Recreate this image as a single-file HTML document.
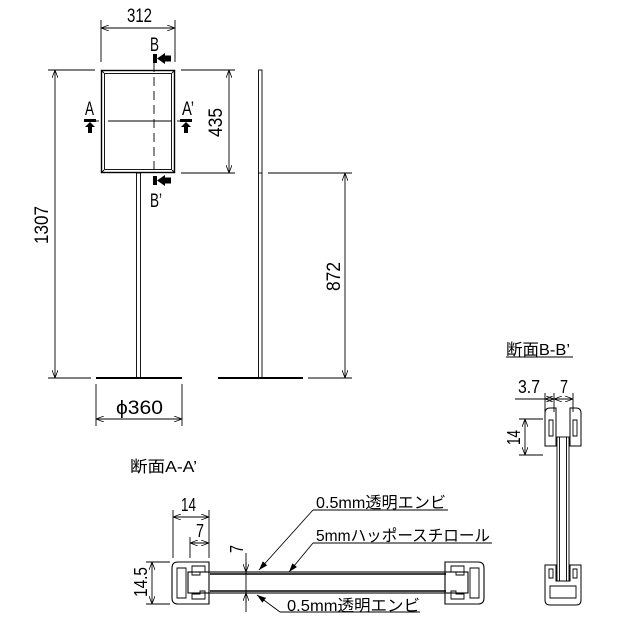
<!DOCTYPE html>
<html><head><meta charset="utf-8"><style>
html,body{margin:0;padding:0;background:#fff;width:622px;height:622px;overflow:hidden}
svg text{font-family:"Liberation Sans","Noto Sans CJK JP",sans-serif;fill:#000}
</style></head><body>
<svg width="622" height="622" viewBox="0 0 622 622" xmlns="http://www.w3.org/2000/svg">
<defs>
<marker id="ar" markerWidth="8" markerHeight="6" refX="8" refY="3" orient="auto-start-reverse" markerUnits="userSpaceOnUse"><path d="M0,0 L8,3 L0,6" fill="none" stroke="#000" stroke-width="0.8"/></marker>
<marker id="af" markerWidth="9" markerHeight="6" refX="9" refY="3" orient="auto" markerUnits="userSpaceOnUse"><path d="M0,0 L9,3 L0,6 z" fill="#000"/></marker>
</defs>
<g stroke="#000" stroke-width="0.9" fill="none">
<line x1="101" y1="20" x2="101" y2="62"/><line x1="175" y1="20" x2="175" y2="62"/>
<line x1="101" y1="28" x2="175" y2="28" marker-start="url(#ar)" marker-end="url(#ar)"/>
<rect x="101.5" y="70.5" width="73" height="102" stroke-width="1.4"/>
<rect x="104.5" y="73.5" width="67" height="96"/>
<line x1="101" y1="70" x2="104" y2="73"/><line x1="175" y1="70" x2="172" y2="73"/>
<line x1="101" y1="173" x2="104" y2="170"/><line x1="175" y1="173" x2="172" y2="170"/>
<line x1="108" y1="121" x2="172" y2="121"/>
<line x1="154" y1="63" x2="154" y2="173" stroke-dasharray="9,5"/>
<line x1="154" y1="176" x2="154" y2="183"/>
<line x1="94" y1="121" x2="99" y2="121"/><line x1="177" y1="121" x2="182" y2="121"/>
<line x1="181" y1="70" x2="235" y2="70"/><line x1="181" y1="173" x2="235" y2="173"/>
<line x1="229" y1="70" x2="229" y2="173" marker-start="url(#ar)" marker-end="url(#ar)"/>
<line x1="48" y1="70" x2="95" y2="70"/><line x1="48" y1="378" x2="91" y2="378"/>
<line x1="55" y1="70" x2="55" y2="378" marker-start="url(#ar)" marker-end="url(#ar)"/>
<rect x="136.5" y="173" width="4" height="205"/>
<line x1="96" y1="378" x2="182" y2="378" stroke-width="2"/>
<line x1="96" y1="384" x2="96" y2="426"/><line x1="182" y1="384" x2="182" y2="426"/>
<line x1="96" y1="419" x2="182" y2="419" marker-start="url(#ar)" marker-end="url(#ar)"/>
<rect x="258.5" y="70" width="3.5" height="308"/>
<line x1="258" y1="173" x2="262" y2="173"/>
<line x1="218" y1="378" x2="303" y2="378" stroke-width="2"/>
<line x1="268" y1="173" x2="352" y2="173"/><line x1="308" y1="378" x2="352" y2="378"/>
<line x1="345" y1="173" x2="345" y2="378" marker-start="url(#ar)" marker-end="url(#ar)"/>
<path d="M178,562 H209 V604 H178 Q172,604 172,598 V568 Q172,562 178,562 Z" stroke-width="1.1"/>
<path d="M177,568 H186 V598 H177 Z"/>
<path d="M192,566 H205 V572 H200 V575 H192 Z M192,594 H200 V591 H205 V599 H192 Z"/>
<path d="M478,562 H445 V604 H478 Q484,604 484,598 V568 Q484,562 478,562 Z" stroke-width="1.1"/>
<path d="M479,568 H470 V598 H479 Z"/>
<path d="M464,566 H451 V572 H456 V575 H464 Z M464,594 H456 V591 H451 V599 H464 Z"/>
<rect x="188" y="572" width="280" height="21" stroke-width="1.1"/>
<line x1="210" y1="574" x2="446" y2="574" stroke-width="1.6"/>
<line x1="210" y1="591" x2="446" y2="591" stroke-width="1.6"/>
<line x1="146" y1="562" x2="170" y2="562"/><line x1="146" y1="604" x2="170" y2="604"/>
<line x1="152" y1="562" x2="152" y2="604" marker-start="url(#ar)" marker-end="url(#ar)"/>
<line x1="173" y1="510" x2="173" y2="558"/><line x1="209" y1="510" x2="209" y2="558"/>
<line x1="173" y1="517" x2="209" y2="517" marker-start="url(#ar)" marker-end="url(#ar)"/>
<line x1="190" y1="537" x2="190" y2="558"/>
<line x1="190" y1="543" x2="209" y2="543" marker-start="url(#ar)" marker-end="url(#ar)"/>
<line x1="246" y1="553" x2="246" y2="612"/>
<line x1="246" y1="562" x2="246" y2="572" marker-end="url(#ar)"/>
<line x1="246" y1="603" x2="246" y2="593" marker-end="url(#ar)"/>
<line x1="313" y1="510" x2="448" y2="510"/><line x1="313" y1="510" x2="259" y2="570" marker-end="url(#af)"/>
<line x1="313" y1="543" x2="492" y2="543"/><line x1="313" y1="543" x2="289" y2="572" marker-end="url(#af)"/>
<line x1="280" y1="612" x2="420" y2="612"/><line x1="280" y1="612" x2="257" y2="595" marker-end="url(#af)"/>
<line x1="506" y1="357" x2="573" y2="357"/>
<path d="M556,446 H545 V413 Q545,408 550,408 H556 Z" stroke-width="1"/>
<path d="M570,446 H581 V413 Q581,408 576,408 H570 Z" stroke-width="1"/>
<path d="M549,420 H553 V436 H549 Z M573,420 H577 V436 H573 Z"/>
<rect x="557" y="437" width="12" height="144"/>
<line x1="559.5" y1="437" x2="559.5" y2="581"/><line x1="566.5" y1="437" x2="566.5" y2="581"/>
<path d="M556,565 H545 V600 Q545,605 550,605 H576 Q581,605 581,600 V565 H570 V581 H556 Z" stroke-width="1"/>
<path d="M549,569 H553 V578 H549 Z M573,569 H577 V578 H573 Z"/>
<path d="M550,586 H576 V598 H550 Z"/>
<line x1="545" y1="393" x2="545" y2="412"/><line x1="554" y1="393" x2="554" y2="412"/><line x1="573" y1="393" x2="573" y2="412"/>
<line x1="515" y1="399" x2="545" y2="399"/>
<line x1="545" y1="399" x2="554" y2="399" marker-start="url(#ar)" marker-end="url(#ar)"/>
<line x1="554" y1="399" x2="573" y2="399" marker-start="url(#ar)" marker-end="url(#ar)"/>
<line x1="519" y1="419" x2="543" y2="419"/><line x1="519" y1="455" x2="543" y2="455"/>
<line x1="525" y1="419" x2="525" y2="455" marker-start="url(#ar)" marker-end="url(#ar)"/>
</g>
<g fill="#000">
<rect x="153" y="54" width="4" height="9"/><path d="M157,58.5 L165,53 L165,55.5 L171,55.5 L171,61.5 L165,61.5 L165,64 Z"/>
<rect x="153" y="176" width="4" height="9"/><path d="M157,180.5 L165,175 L165,177.5 L171,177.5 L171,183.5 L165,183.5 L165,186 Z"/>
<rect x="84" y="119" width="12" height="3"/><path d="M90,122 L85,127 L88,127 L88,133 L92,133 L92,127 L95,127 Z"/>
<rect x="180" y="119" width="12" height="3"/><path d="M186,122 L181,127 L184,127 L184,133 L188,133 L188,127 L191,127 Z"/>
</g>
<g font-size="19" lengthAdjust="spacingAndGlyphs">
<text x="127" y="22" textLength="25" lengthAdjust="spacingAndGlyphs">312</text>
<text x="150" y="51" textLength="9" lengthAdjust="spacingAndGlyphs">B</text>
<text x="150" y="207" textLength="12" lengthAdjust="spacingAndGlyphs">B’</text>
<text x="85" y="115" textLength="9" lengthAdjust="spacingAndGlyphs">A</text>
<text x="182" y="115" textLength="12" lengthAdjust="spacingAndGlyphs">A’</text>
<text transform="translate(222,108) rotate(-90)" x="-29" textLength="29" lengthAdjust="spacingAndGlyphs">435</text>
<text transform="translate(48,244) rotate(-90)" textLength="38" lengthAdjust="spacingAndGlyphs">1307</text>
<text transform="translate(340,291) rotate(-90)" textLength="29" lengthAdjust="spacingAndGlyphs">872</text>
<text x="116" y="414" textLength="47" lengthAdjust="spacingAndGlyphs">ϕ360</text>
<text x="130" y="472" font-size="16" textLength="67" lengthAdjust="spacingAndGlyphs">断面A-A’</text>
<text x="506" y="355" font-size="16" textLength="64" lengthAdjust="spacingAndGlyphs">断面B-B’</text>
<text x="181" y="511" font-size="18" textLength="15" lengthAdjust="spacingAndGlyphs">14</text>
<text x="196" y="537" font-size="18" textLength="8" lengthAdjust="spacingAndGlyphs">7</text>
<text transform="translate(147,597) rotate(-90)" font-size="18" textLength="30" lengthAdjust="spacingAndGlyphs">14.5</text>
<text transform="translate(243,553) rotate(-90)" font-size="18" textLength="8" lengthAdjust="spacingAndGlyphs">7</text>
<text x="316" y="508" font-size="16" textLength="130" lengthAdjust="spacingAndGlyphs">0.5mm透明エンビ</text>
<text x="316" y="541" font-size="16" textLength="174" lengthAdjust="spacingAndGlyphs">5mmハッポースチロール</text>
<text x="287" y="611" font-size="16" textLength="133" lengthAdjust="spacingAndGlyphs">0.5mm透明エンビ</text>
<text x="518" y="393" font-size="18" textLength="22" lengthAdjust="spacingAndGlyphs">3.7</text>
<text x="560" y="393" font-size="18" textLength="8" lengthAdjust="spacingAndGlyphs">7</text>
<text transform="translate(520,445) rotate(-90)" font-size="18" textLength="15" lengthAdjust="spacingAndGlyphs">14</text>
</g>
</svg>
</body></html>
